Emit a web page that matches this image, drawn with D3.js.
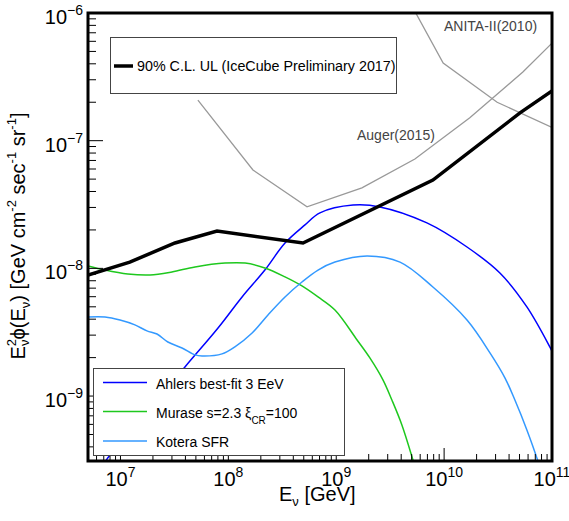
<!DOCTYPE html>
<html>
<head>
<meta charset="utf-8">
<script src="https://cdn.jsdelivr.net/npm/d3@7"></script>
<style>
  html, body { margin: 0; padding: 0; background: #fff; }
  svg { display: block; font-family: "Liberation Sans", Arial, Helvetica, sans-serif; }
</style>
</head>
<body>
<svg id="chart" width="569" height="521"></svg>
<script>
// ---------- data (energies in GeV, fluxes in GeV cm^-2 s^-1 sr^-1) ----------
const iceCubeE = [5.0e6, 1.22e7, 3.2e7, 7.85e7, 4.92e8, 7.87e9, 5.05e10, 1.0e11];
const iceCubeV = [8.87e-9, 1.12e-8, 1.58e-8, 1.96e-8, 1.58e-8, 4.92e-8, 1.65e-7, 2.45e-7];

const anitaE = [3.1e9, 9.8e9, 3.1e10, 1.0e11];
const anitaV = [2.4e-6, 4.05e-7, 2.0e-7, 1.27e-7];

const augerE = [5.22e7, 1.69e8, 5.36e8, 1.73e9, 5.36e9, 1.73e10, 5.37e10, 1.0e11];
const augerV = [2.08e-7, 5.9e-8, 3.03e-8, 4.27e-8, 7.19e-8, 1.51e-7, 3.45e-7, 5.8e-7];

const ahlersE = [6.31e6, 7.19e6, 3.96e7, 8.02e7, 1.34e8, 2.18e8, 3.35e8, 5.13e8, 7.06e8,
                 1.43e9, 2.54e9, 6.93e9, 1.63e10, 3.29e10, 5.85e10, 9.57e10, 1.0e11];
const ahlersV = [2.4e-10, 3.05e-10, 1.69e-9, 3.41e-9, 5.97e-9, 9.7e-9, 1.58e-8, 2.19e-8, 2.72e-8,
                 3.13e-8, 3.03e-8, 2.27e-8, 1.47e-8, 9.2e-9, 4.99e-9, 2.42e-9, 2.25e-9];

const muraseE = [5.0e6, 7.19e6, 1.17e7, 1.88e7, 3.0e7, 4.91e7, 9.31e7, 1.43e8, 2.18e8, 3.35e8,
                 4.81e8, 6.78e8, 9.73e8, 1.56e9, 2.05e9, 2.71e9, 3.28e9, 4.06e9, 5.14e9, 5.71e9];
const muraseV = [1.045e-8, 9.7e-9, 9.03e-9, 8.87e-9, 9.38e-9, 1.026e-8, 1.10e-8, 1.10e-8, 1.007e-8, 8.57e-9,
                 7.28e-9, 5.97e-9, 4.72e-9, 2.75e-9, 1.99e-9, 1.34e-9, 9.31e-10, 5.94e-10, 3.16e-10, 2.33e-10];

const koteraE = [5.0e6, 7.19e6, 9.91e6, 1.36e7, 1.76e7, 2.18e7, 2.75e7, 3.72e7, 4.91e7, 5.70e7,
                 8.73e7, 1.15e8, 1.66e8, 2.33e8, 3.35e8, 4.81e8, 6.78e8, 9.73e8, 1.93e9, 3.90e9,
                 7.87e9, 1.63e10, 2.66e10, 3.66e10, 4.53e10, 5.85e10, 7.40e10, 8.3e10];
const koteraV = [4.16e-9, 4.16e-9, 3.94e-9, 3.61e-9, 3.24e-9, 3.06e-9, 2.65e-9, 2.38e-9, 2.10e-9, 2.06e-9,
                 2.14e-9, 2.43e-9, 3.12e-9, 4.32e-9, 5.97e-9, 7.82e-9, 9.7e-9, 1.12e-8, 1.25e-8, 1.12e-8,
                 7.14e-9, 3.94e-9, 2.18e-9, 1.39e-9, 9.31e-10, 5.43e-10, 3.10e-10, 2.24e-10];

const xTickExp = [7, 8, 9, 10, 11];
const yTickExp = [-6, -7, -8, -9];
const legendTop = ["90% C.L. UL (IceCube Preliminary 2017)"];
const legendModels = ["Ahlers best-fit 3 EeV", "Murase s=2.3 ", "Kotera SFR"];

// ---------- layout ----------
const L = 88, R = 552, T = 13, B = 461;
const x = d3.scaleLog().domain([5e6, 1e11]).range([L, R]);
const y = d3.scaleLog().domain([3.1e-10, 1e-6]).range([B, T]);

const svg = d3.select("#chart");
svg.append("rect").attr("width", 569).attr("height", 521).attr("fill", "#fff");

svg.append("defs").append("clipPath").attr("id", "clip")
  .append("rect").attr("x", L).attr("y", T).attr("width", R - L).attr("height", B - T);

const zip = (E, V) => E.map((e, i) => [e, V[i]]);
const lineLin = d3.line().x(d => x(d[0])).y(d => y(d[1]));
const lineSmooth = d3.line().x(d => x(d[0])).y(d => y(d[1])).curve(d3.curveCatmullRom.alpha(0.5));

const plot = svg.append("g").attr("clip-path", "url(#clip)");

// gray reference limits
plot.append("path").datum(zip(anitaE, anitaV)).attr("d", lineLin)
  .attr("fill", "none").attr("stroke", "#999").attr("stroke-width", 1.3);
plot.append("path").datum(zip(augerE, augerV)).attr("d", lineLin)
  .attr("fill", "none").attr("stroke", "#999").attr("stroke-width", 1.3);

// model curves
const models = [
  {E: ahlersE, V: ahlersV, c: "#0000ff"},
  {E: muraseE, V: muraseV, c: "#1ec81e"},
  {E: koteraE, V: koteraV, c: "#3399ff"}
];
models.forEach(m => {
  plot.append("path").datum(zip(m.E, m.V)).attr("d", lineSmooth)
    .attr("fill", "none").attr("stroke", m.c).attr("stroke-width", 1.5);
});

// IceCube limit
plot.append("path").datum(zip(iceCubeE, iceCubeV)).attr("d", lineLin)
  .attr("fill", "none").attr("stroke", "#000").attr("stroke-width", 3.5)
  .attr("stroke-linejoin", "miter");

// gray labels
svg.append("text").attr("x", 444).attr("y", 31).attr("font-size", 14).attr("fill", "#444")
  .text("ANITA-II(2010)");
svg.append("text").attr("x", 357).attr("y", 140).attr("font-size", 14).attr("fill", "#444")
  .text("Auger(2015)");

// ---------- ticks ----------
const ax = svg.append("g").attr("stroke", "#000").attr("stroke-width", 1);
for (let e = -10; e <= -6; e++) {
  for (let m = 1; m <= 9; m++) {
    const v = m * Math.pow(10, e);
    if (v < y.domain()[0] || v > y.domain()[1]) continue;
    const py = y(v);
    ax.append("line").attr("x1", L).attr("x2", L + (m === 1 ? 15 : 8))
      .attr("y1", py).attr("y2", py);
  }
}
for (let e = 6; e <= 11; e++) {
  for (let m = 1; m <= 9; m++) {
    const v = m * Math.pow(10, e);
    if (v < x.domain()[0] || v > x.domain()[1]) continue;
    const px = x(v);
    ax.append("line").attr("x1", px).attr("x2", px)
      .attr("y1", B).attr("y2", B - (m === 1 ? 13 : 7));
  }
}

// y tick labels
yTickExp.forEach(e => {
  const t = svg.append("text").attr("x", 83).attr("y", y(Math.pow(10, e)) + 11)
    .attr("text-anchor", "end").attr("font-size", 20).attr("fill", "#000");
  t.append("tspan").text("10");
  t.append("tspan").attr("font-size", 14).attr("dy", -9).text("\u2212" + Math.abs(e));
});
// x tick labels
xTickExp.forEach(e => {
  const t = svg.append("text").attr("x", x(Math.pow(10, e))).attr("y", 486)
    .attr("text-anchor", "middle").attr("font-size", 20).attr("fill", "#000");
  t.append("tspan").text("10");
  t.append("tspan").attr("font-size", 14).attr("dy", -9).text(String(e));
});

// axis titles
const xt = svg.append("text").attr("x", 279).attr("y", 501).attr("font-size", 20);
xt.append("tspan").text("E");
xt.append("tspan").attr("font-size", 13).attr("dy", 5).text("\u03bd");
xt.append("tspan").attr("dy", -5).text(" [GeV]");

const yt = svg.append("text").attr("transform", "translate(25,236) rotate(-90)")
  .attr("text-anchor", "middle").attr("font-size", 20);
yt.append("tspan").text("E");
yt.append("tspan").attr("font-size", 13).attr("dy", -9).text("2");
yt.append("tspan").attr("font-size", 13).attr("dx", -7).attr("dy", 13).text("\u03bd");
yt.append("tspan").attr("dy", -4).text("\u03d5(E");
yt.append("tspan").attr("font-size", 13).attr("dy", 5).text("\u03bd");
yt.append("tspan").attr("dy", -5).text(") [GeV cm");
yt.append("tspan").attr("font-size", 13).attr("dy", -9).text("-2");
yt.append("tspan").attr("dy", 9).text(" sec");
yt.append("tspan").attr("font-size", 13).attr("dy", -9).text("-1");
yt.append("tspan").attr("dy", 9).text(" sr");
yt.append("tspan").attr("font-size", 13).attr("dy", -9).text("-1");
yt.append("tspan").attr("dy", 9).text("]");

// ---------- legends ----------
const lg1 = svg.append("g");
lg1.append("rect").attr("x", 110.5).attr("y", 37.5).attr("width", 286).attr("height", 56)
  .attr("fill", "#fff").attr("stroke", "#444").attr("stroke-width", 1);
lg1.append("line").attr("x1", 114).attr("x2", 133).attr("y1", 66).attr("y2", 66)
  .attr("stroke", "#000").attr("stroke-width", 3.5);
lg1.append("text").attr("x", 137).attr("y", 71).attr("font-size", 14.3).text(legendTop[0]);

const lg2 = svg.append("g");
lg2.append("rect").attr("x", 93.5).attr("y", 368.5).attr("width", 251).attr("height", 87)
  .attr("fill", "#fff").attr("stroke", "#444").attr("stroke-width", 1);
const legY = [382.5, 411.5, 441];
models.forEach((m, i) => {
  lg2.append("line").attr("x1", 103).attr("x2", 147).attr("y1", legY[i]).attr("y2", legY[i])
    .attr("stroke", m.c).attr("stroke-width", 1.5);
  const t = lg2.append("text").attr("x", 156).attr("y", legY[i] + 6).attr("font-size", 14);
  t.append("tspan").text(legendModels[i]);
  if (i === 1) {
    t.append("tspan").text("\u03be");
    t.append("tspan").attr("font-size", 10).attr("dy", 6).text("CR");
    t.append("tspan").attr("dy", -6).text("=100");
  }
});

// frame
svg.append("rect").attr("x", L).attr("y", T).attr("width", R - L).attr("height", B - T)
  .attr("fill", "none").attr("stroke", "#000").attr("stroke-width", 3);
</script>
</body>
</html>
